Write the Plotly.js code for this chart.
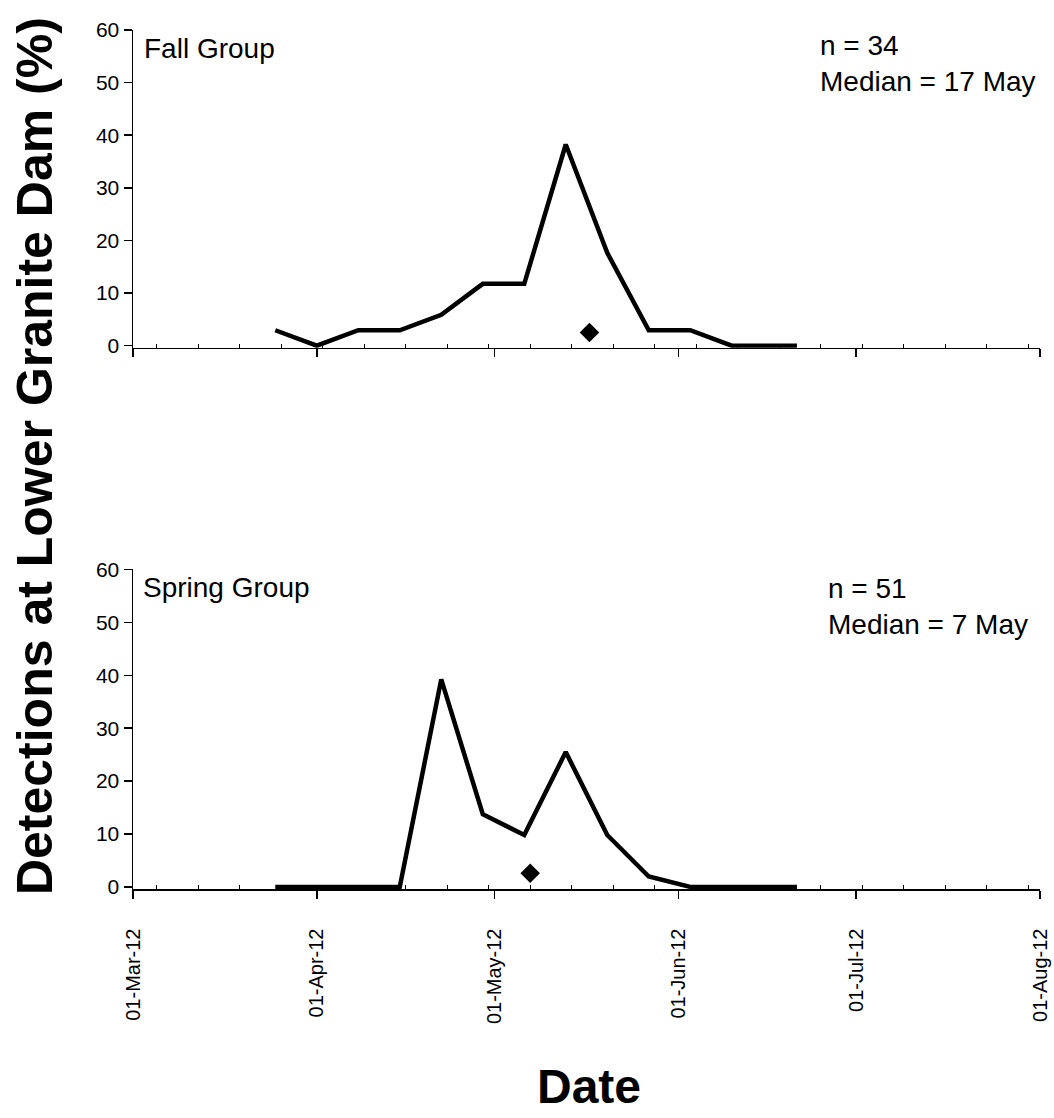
<!DOCTYPE html>
<html>
<head>
<meta charset="utf-8">
<script src="https://cdn.plot.ly/plotly-3.0.1.min.js"></script>
<style>
  html, body { margin: 0; padding: 0; background: #ffffff; }
  #chart { width: 1054px; height: 1118px; }
</style>
</head>
<body>
<div id="chart"></div>
<script>
// Weekly detection dates (last entry closes the monitoring window)
const weekDates = ['2012-03-25', '2012-04-01', '2012-04-08', '2012-04-15', '2012-04-22',
                   '2012-04-29', '2012-05-06', '2012-05-13', '2012-05-20', '2012-05-27',
                   '2012-06-03', '2012-06-10', '2012-06-17', '2012-06-21'];

// Percent of each group's detections at Lower Granite Dam per week
const fallPct   = [2.94, 0, 2.94, 2.94, 5.88, 11.76, 11.76, 38.24, 17.65, 2.94, 2.94, 0, 0, 0];
const springPct = [0, 0, 0, 0, 39.22, 13.73, 9.80, 25.49, 9.80, 1.96, 0, 0, 0, 0];

// Median passage date markers
const fallMedianDate = ['2012-05-17'];
const fallMedianY = [2.5];
const springMedianDate = ['2012-05-07'];
const springMedianY = [2.6];

// Panel labels and summary text
const groupLabels = ['Fall Group', 'Spring Group'];
const sampleSizes = [34, 51];
const medianLabels = ['17 May', '7 May'];

// Axis settings
const dateRange = ['2012-03-01', '2012-08-01'];
const yTickVals = [0, 10, 20, 30, 40, 50, 60];
const yRange = [-0.4, 60];   // small floor so the zero-level line is not clipped

const FONT = 'Arial, "Liberation Sans", Helvetica, sans-serif';
const WEEK_MS = 7 * 24 * 3600 * 1000;

const lineStyle = { color: '#000000', width: 4.5 };
const markerStyle = { symbol: 'diamond', size: 15, color: '#000000' };

const traces = [
  { x: weekDates, y: fallPct, xaxis: 'x2', yaxis: 'y2', type: 'scatter', mode: 'lines',
    line: lineStyle, cliponaxis: false, hoverinfo: 'x+y' },
  { x: fallMedianDate, y: fallMedianY, xaxis: 'x2', yaxis: 'y2', type: 'scatter', mode: 'markers',
    marker: markerStyle, cliponaxis: false },
  { x: weekDates, y: springPct, xaxis: 'x', yaxis: 'y', type: 'scatter', mode: 'lines',
    line: lineStyle, cliponaxis: false, hoverinfo: 'x+y' },
  { x: springMedianDate, y: springMedianY, xaxis: 'x', yaxis: 'y', type: 'scatter', mode: 'markers',
    marker: markerStyle, cliponaxis: false }
];

function dateAxis(anchor, showLabels) {
  return {
    type: 'date', range: dateRange, anchor: anchor, domain: [0, 1],
    tickmode: 'linear', tick0: dateRange[0], dtick: 'M1', tickformat: '%d-%b-%y',
    tickangle: -90, showticklabels: showLabels,
    ticks: 'outside', ticklen: 8, tickwidth: 1.5, tickcolor: '#000000',
    ticklabelstandoff: 22,
    tickfont: { family: FONT, size: 20, color: '#000000' },
    showline: true, linecolor: '#000000', linewidth: 1.5,
    showgrid: false, zeroline: false,
    minor: { tick0: '2012-03-05', dtick: WEEK_MS, ticks: 'inside', ticklen: 4,
             tickwidth: 1, tickcolor: '#000000', showgrid: false }
  };
}

function valueAxis(anchor, domain) {
  return {
    range: yRange, anchor: anchor, domain: domain,
    tickmode: 'array', tickvals: yTickVals,
    ticks: 'outside', ticklen: 8, tickwidth: 1.5, tickcolor: '#000000',
    ticklabelstandoff: 0,
    tickfont: { family: FONT, size: 21, color: '#000000' },
    showline: true, linecolor: '#000000', linewidth: 1.5,
    showgrid: false, zeroline: false
  };
}

const x2 = dateAxis('y2', false);
x2.matches = 'x';

function panelText(text, xr, yr, x, y) {
  return { text: text, xref: xr, yref: yr, x: x, y: y, xanchor: 'left', yanchor: 'middle',
           align: 'left', showarrow: false, font: { family: FONT, size: 28, color: '#000000' } };
}

const annotations = [
  panelText(groupLabels[0], 'x2 domain', 'y2 domain', 0.010, 0.943),
  panelText(groupLabels[1], 'x domain', 'y domain', 0.009, 0.943),
  panelText('n = ' + sampleSizes[0] + '<br>Median = ' + medianLabels[0], 'x2 domain', 'y2 domain', 0.755, 0.894),
  panelText('n = ' + sampleSizes[1] + '<br>Median = ' + medianLabels[1], 'x domain', 'y domain', 0.764, 0.883),
  { text: 'Detections at Lower Granite Dam (%)', xref: 'paper', yref: 'paper',
    x: -0.108, y: 0.504, xanchor: 'center', yanchor: 'middle', textangle: -90, showarrow: false,
    font: { family: FONT, size: 50, weight: 700, color: '#000000' } },
  { text: 'Date', xref: 'paper', yref: 'paper', x: 0.5026, y: -0.23,
    xanchor: 'center', yanchor: 'middle', showarrow: false,
    font: { family: FONT, size: 48, weight: 700, color: '#000000' } }
];

const layout = {
  width: 1054, height: 1118,
  margin: { l: 133, r: 14, t: 30, b: 229, pad: 0 },
  paper_bgcolor: '#ffffff', plot_bgcolor: '#ffffff',
  showlegend: false,
  font: { family: FONT, color: '#000000' },
  xaxis: dateAxis('y', true),
  xaxis2: x2,
  yaxis: valueAxis('x', [0, 0.372]),
  yaxis2: valueAxis('x2', [0.630, 1]),
  annotations: annotations
};

Plotly.newPlot('chart', traces, layout, { displayModeBar: false, staticPlot: true });
</script>
</body>
</html>
